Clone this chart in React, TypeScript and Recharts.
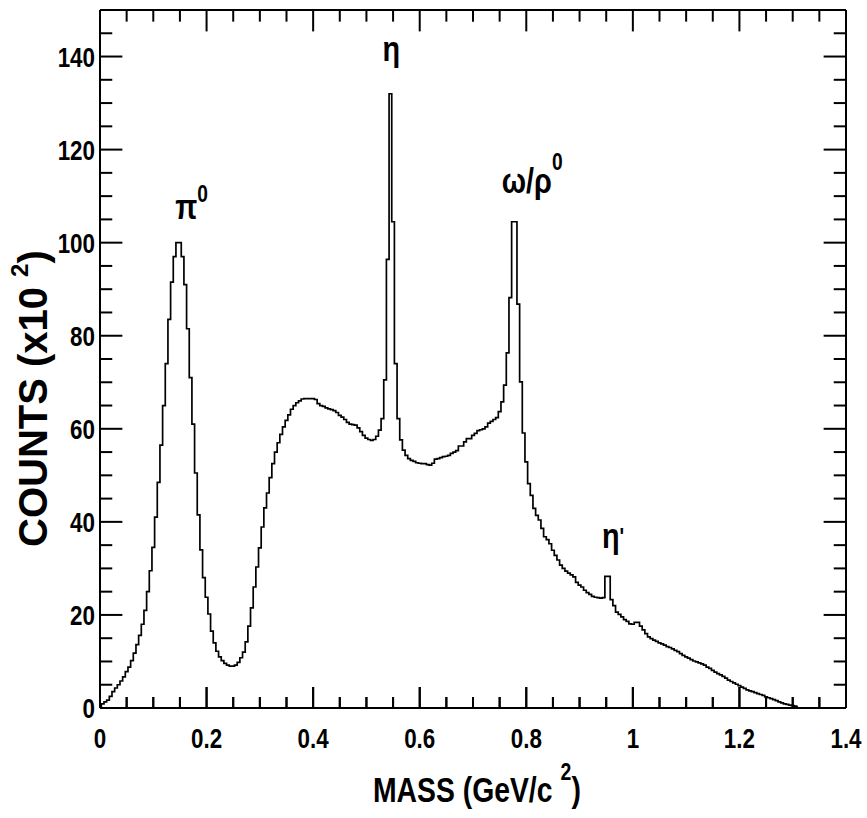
import {
  LineChart,
  Line,
  XAxis,
  YAxis,
  ReferenceDot,
  ReferenceLine,
} from "recharts";

// invariant mass histogram, counts in units of 10^2, bins of 5 MeV
const BIN_WIDTH = 0.005;
const counts = [
  0.3, 0.9, 1.3, 1.7, 2.5, 3.5, 4.3, 5.0, 5.8, 6.7,
  7.8, 8.8, 10.2, 11.8, 13.6, 15.6, 18.0, 21.0, 25.0, 29.5,
  34.5, 41.0, 48.5, 56.5, 65.0, 74.0, 83.5, 91.5, 97.0, 100.0,
  100.0, 97.0, 91.0, 81.5, 71.0, 61.0, 50.5, 41.5, 34.0, 28.0,
  23.8, 20.2, 16.5, 14.0, 12.2, 11.0, 10.2, 9.6, 9.2, 9.0,
  9.0, 9.2, 9.8, 10.8, 12.0, 14.2, 17.6, 21.5, 26.0, 30.3,
  34.4, 38.9, 43.0, 46.2, 49.5, 52.5, 55.0, 57.0, 58.8, 60.4,
  61.8, 63.0, 64.2, 65.0, 65.6, 66.0, 66.4, 66.5, 66.5, 66.5,
  66.5, 66.3, 65.4, 65.0, 64.8, 64.5, 64.3, 64.1, 63.9, 63.5,
  62.9, 62.5, 62.0, 61.4, 61.0, 60.9, 60.8, 60.2, 59.4, 58.6,
  58.0, 57.7, 57.5, 57.7, 58.4, 59.7, 62.2, 70.5, 96.4, 132.0,
  104.5, 74.0, 62.2, 57.6, 55.4, 54.3, 53.6, 53.2, 53.0, 52.7,
  52.6, 52.5, 52.5, 52.3, 52.2, 52.6, 53.5, 53.6, 53.8, 54.0,
  54.1, 54.3, 54.7, 55.0, 55.3, 56.3, 56.3, 57.2, 57.9, 57.9,
  58.6, 59.0, 59.6, 59.8, 60.0, 60.4, 61.2, 61.6, 62.0, 62.4,
  63.7, 65.8, 69.4, 76.3, 88.2, 104.5, 104.5, 86.8, 70.1, 59.1,
  52.9, 48.2, 45.7, 42.9, 41.4, 40.4, 38.6, 36.8, 36.2, 35.3,
  33.9, 32.8, 31.8, 30.7, 30.0, 29.4, 29.0, 28.6, 28.2, 27.0,
  26.4, 26.0, 25.3, 24.8, 24.4, 24.0, 23.8, 23.7, 23.6, 23.7,
  28.3, 28.3, 23.3, 22.0, 20.6, 20.1, 19.6, 19.0, 18.6, 18.1,
  18.0, 18.4, 18.4, 17.6, 16.8, 16.0, 15.3, 14.9, 14.6, 14.3,
  14.0, 13.8, 13.5, 13.2, 13.0, 12.7, 12.4, 12.1, 11.7, 11.3,
  11.0, 10.7, 10.4, 10.1, 9.9, 9.7, 9.5, 9.2, 8.8, 8.5,
  8.1, 7.7, 7.4, 7.1, 6.8, 6.4, 6.0, 5.7, 5.4, 5.1,
  4.8, 4.5, 4.2, 3.9, 3.7, 3.5, 3.3, 3.1, 2.9, 2.7,
  2.4, 2.2, 2.0, 1.8, 1.6, 1.3, 1.1, 0.9, 0.8, 0.6,
  0.5, 0.4, 0.2,
];

const xTicks = [
  0, 0.05, 0.1, 0.15, 0.2, 0.25, 0.3, 0.35, 0.4, 0.45, 0.5, 0.55, 0.6, 0.65,
  0.7, 0.75, 0.8, 0.85, 0.9, 0.95, 1, 1.05, 1.1, 1.15, 1.2, 1.25, 1.3, 1.35, 1.4,
];
const yTicks = [
  0, 5, 10, 15, 20, 25, 30, 35, 40, 45, 50, 55, 60, 65, 70, 75, 80, 85, 90, 95,
  100, 105, 110, 115, 120, 125, 130, 135, 140, 145, 150,
];

// peak labels
const peakNames = ["π", "η", "ω/ρ", "η"];
const peakSups = ["0", "", "0", "'"];
const peakMass = [0.141, 0.53, 0.754, 0.942];
const peakCount = [105, 139, 110.7, 34.4];
const supShift = [-17, 0, -23, -3];

const data = counts.map((c, i) => ({ m: +(i * BIN_WIDTH).toFixed(3), c }));

const FONT = "'Liberation Sans', Arial, Helvetica, sans-serif";
const X_MAX = 1.4;
const Y_MAX = 150;
// tick lengths: px for the bottom marks, axis units for the others
const TICK_PX_MAJOR = 21;
const TICK_PX_MINOR = 11;
const X_TICK_MAJOR = 4.6;
const X_TICK_MINOR = 2.5;
const Y_TICK_MAJOR = 0.042;
const Y_TICK_MINOR = 0.023;

const fmt = (v: number) => String(parseFloat(v.toFixed(2)));
const isMajorX = (v: number) => Math.abs(v * 5 - Math.round(v * 5)) < 1e-6;
const isMajorY = (v: number) => v % 20 === 0;

function XTick({ x, y, payload }: any) {
  const v = payload.value;
  const major = isMajorX(v);
  const len = major ? TICK_PX_MAJOR : TICK_PX_MINOR;
  return (
    <g>
      <line x1={x} x2={x} y1={y} y2={y - len} stroke="#000" strokeWidth={2} />
      {major && (
        <text
          transform={`translate(${x},${y + 40}) scale(0.8,1)`}
          textAnchor="middle"
          fontSize={28}
          fontWeight="bold"
          fontFamily={FONT}
          fill="#000"
        >
          {fmt(v)}
        </text>
      )}
    </g>
  );
}

function YTick({ x, y, payload }: any) {
  const v = payload.value;
  if (!isMajorY(v) || v >= Y_MAX) return null;
  return (
    <text
      transform={`translate(${x - 5},${y + 10}) scale(0.8,1)`}
      textAnchor="end"
      fontSize={28}
      fontWeight="bold"
      fontFamily={FONT}
      fill="#000"
    >
      {v}
    </text>
  );
}

const peakLabel = (i: number) => (props: any) => {
  const { x, y } = props.viewBox;
  return (
    <text
      transform={`translate(${x},${y}) scale(0.8,1)`}
      fontSize={36}
      fontWeight="bold"
      fontFamily={FONT}
      fill="#000"
    >
      {peakNames[i]}
      {peakSups[i] && (
        <tspan fontSize={24} dy={supShift[i]}>
          {peakSups[i]}
        </tspan>
      )}
    </text>
  );
};

// bottom-axis tick mark, drawn from the dot anchor upwards
const bottomTick = (len: number) => (props: any) => {
  const { x, y } = props.viewBox;
  return (
    <line x1={x} x2={x} y1={y} y2={y - len} stroke="#000" strokeWidth={2} />
  );
};

const frameStyle = { stroke: "#000", strokeWidth: 2 };
const tickStyle = {
  stroke: "#000",
  strokeWidth: 2,
  ifOverflow: "visible" as const,
};

export default function App() {
  return (
    <div style={{ position: "absolute", left: 0, top: 0, background: "#fff" }}>
      <LineChart
        width={867}
        height={818}
        data={data}
        margin={{ top: 10, right: 21, bottom: 0, left: 0 }}
      >
        <XAxis
          dataKey="m"
          type="number"
          domain={[0, X_MAX]}
          ticks={xTicks}
          interval={0}
          height={110}
          tickSize={0}
          tickMargin={0}
          tickLine={false}
          tick={<XTick />}
          axisLine={{ stroke: "#000", strokeWidth: 2 }}
        />
        <YAxis
          type="number"
          domain={[0, Y_MAX]}
          ticks={yTicks}
          interval={0}
          width={100}
          tickSize={0}
          tickMargin={0}
          tickLine={false}
          tick={<YTick />}
          axisLine={{ stroke: "#000", strokeWidth: 2 }}
        />
        <ReferenceLine y={Y_MAX} {...frameStyle} />
        <ReferenceLine x={X_MAX} {...frameStyle} />
        {xTicks.map((t) => (
          <ReferenceLine
            key={`xt${t}`}
            segment={[
              { x: t, y: Y_MAX },
              { x: t, y: Y_MAX - (isMajorX(t) ? X_TICK_MAJOR : X_TICK_MINOR) },
            ]}
            {...tickStyle}
          />
        ))}
        {yTicks.map((t) => (
          <ReferenceLine
            key={`yl${t}`}
            segment={[
              { x: 0, y: t },
              { x: isMajorY(t) ? Y_TICK_MAJOR : Y_TICK_MINOR, y: t },
            ]}
            {...tickStyle}
          />
        ))}
        {yTicks.map((t) => (
          <ReferenceLine
            key={`yr${t}`}
            segment={[
              { x: X_MAX, y: t },
              { x: X_MAX - (isMajorY(t) ? Y_TICK_MAJOR : Y_TICK_MINOR), y: t },
            ]}
            {...tickStyle}
          />
        ))}
        <Line
          dataKey="c"
          type="step"
          stroke="#000"
          strokeWidth={1.7}
          dot={false}
          isAnimationActive={false}
        />
        {xTicks.map((t) => (
          <ReferenceDot
            key={`xb${t}`}
            x={t}
            y={0}
            r={0}
            fill="none"
            stroke="none"
            ifOverflow="visible"
            label={bottomTick(isMajorX(t) ? TICK_PX_MAJOR : TICK_PX_MINOR)}
          />
        ))}
        {peakNames.map((_, i) => (
          <ReferenceDot
            key={i}
            x={peakMass[i]}
            y={peakCount[i]}
            r={0}
            fill="none"
            stroke="none"
            label={peakLabel(i)}
          />
        ))}
        <text
          transform="translate(373,802) scale(0.81,1)"
          fontSize={35}
          fontWeight="bold"
          fontFamily={FONT}
          fill="#000"
        >
          MASS (GeV/c
          <tspan fontSize={24} dx={10} dy={-22}>
            2
          </tspan>
          <tspan dy={22}>)</tspan>
        </text>
        <text
          transform="translate(47,547) rotate(-90)"
          fontSize={40}
          fontWeight="bold"
          fontFamily={FONT}
          fill="#000"
        >
          COUNTS (x10
          <tspan fontSize={24} dx={10} dy={-19}>
            2
          </tspan>
          <tspan dy={19}>)</tspan>
        </text>
      </LineChart>
    </div>
  );
}
